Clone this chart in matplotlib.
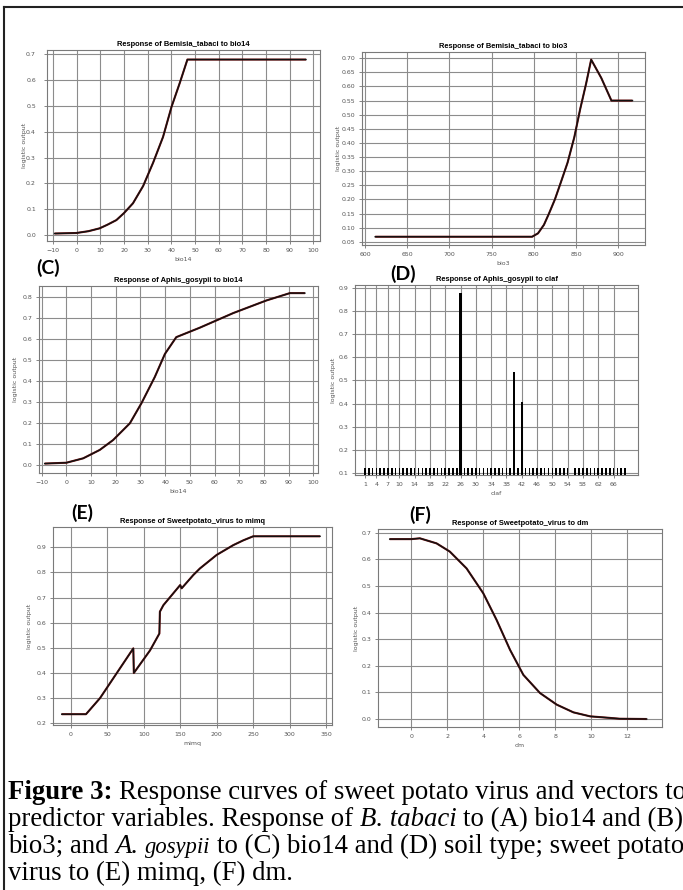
import matplotlib
matplotlib.use("Agg")
import matplotlib.pyplot as plt
from matplotlib.lines import Line2D
from matplotlib.ticker import FormatStrFormatter

W, H = 683, 890

# (A) Bemisia tabaci vs bio14
a_x = [-9.3, -0.1, 5, 9.7, 13, 16.8, 20, 23.8, 28.1, 32.3, 36.5, 40.1, 43.6, 46.8, 96.9]
a_y = [0.006, 0.008, 0.015, 0.026, 0.04, 0.058, 0.085, 0.123, 0.19, 0.28, 0.38, 0.497, 0.59, 0.68, 0.68]

# (B) Bemisia tabaci vs bio3
b_x = [612, 798, 805, 812, 818, 825, 832, 840, 848, 855, 862, 868, 880, 892, 917]
b_y = [0.068, 0.068, 0.08, 0.11, 0.15, 0.2, 0.26, 0.33, 0.42, 0.52, 0.61, 0.695, 0.63, 0.55, 0.55]

# (C) Aphis gosypii vs bio14
c_x = [-8.8, 0, 6.8, 13.5, 18.9, 25.7, 30.4, 35.8, 39.9, 44.5, 54, 67.6, 81, 90.5, 96.6]
c_y = [0.007, 0.011, 0.032, 0.072, 0.119, 0.199, 0.295, 0.42, 0.53, 0.61, 0.655, 0.725, 0.785, 0.82, 0.82]

# (D) Aphis gosypii vs claf (categorical)
d_cat = [1, 2, 3, 4, 5, 6, 7, 8, 9, 10, 11, 12, 13, 14, 15, 16, 17, 18, 19, 20,
         21, 22, 23, 24, 25, 26, 27, 28, 29, 30, 31, 32, 33, 34, 35, 36, 37, 38, 39, 40,
         41, 42, 43, 44, 45, 46, 47, 48, 49, 50, 51, 52, 53, 54, 56, 57, 58, 59, 60, 61,
         62, 63, 64, 65, 66, 67, 68, 69]
d_val = [0.12, 0.12, 0.12, 0.12, 0.12, 0.12, 0.12, 0.12, 0.12, 0.12, 0.12, 0.12, 0.12, 0.12, 0.12, 0.12, 0.12, 0.12, 0.12, 0.12,
         0.12, 0.12, 0.12, 0.12, 0.12, 0.88, 0.12, 0.12, 0.12, 0.12, 0.12, 0.12, 0.12, 0.12, 0.12, 0.12, 0.12, 0.12, 0.12, 0.535,
         0.12, 0.405, 0.12, 0.12, 0.12, 0.12, 0.12, 0.12, 0.12, 0.12, 0.12, 0.12, 0.12, 0.12, 0.12, 0.12, 0.12, 0.12, 0.12, 0.12,
         0.12, 0.12, 0.12, 0.12, 0.12, 0.12, 0.12, 0.12]
d_ticks = [1, 4, 7, 10, 14, 18, 22, 26, 30, 34, 38, 42, 46, 50, 54, 58, 62, 66]

# (E) Sweet potato virus vs mimq
e_x = [-12.3, 21, 40.2, 63, 85.8, 86.5, 108.7, 121.5, 122.2, 127, 150, 152, 168, 177, 200, 222.8, 236.5, 250, 341.6]
e_y = [0.236, 0.236, 0.3, 0.399, 0.498, 0.40, 0.49, 0.557, 0.644, 0.67, 0.75, 0.737, 0.79, 0.816, 0.87, 0.909, 0.928, 0.944, 0.944]

# (F) Sweet potato virus vs dm
f_x = [-1.21, 0, 0.47, 1.4, 2.14, 3.07, 4.0, 4.74, 5.49, 6.23, 7.16, 8.09, 9.02, 9.95, 10.9, 11.6, 13.1]
f_y = [0.676, 0.676, 0.679, 0.66, 0.629, 0.566, 0.4725, 0.3725, 0.26, 0.166, 0.0975, 0.054, 0.025, 0.01, 0.005, 0.001, 0.0]

fig = plt.figure(figsize=(W / 100, H / 100), dpi=100)
fig.patch.set_facecolor("white")


def px_axes(l, t, r, b):
    return fig.add_axes([l / W, 1 - b / H, (r - l) / W, (b - t) / H])


def style(ax, title, xlabel, xticks, yticks, yfmt, xlim, ylim, ylab_px, l, r, title_pad=3, ypad=3):
    ax.set_xlim(*xlim)
    ax.set_ylim(*ylim)
    ax.set_xticks(xticks)
    ax.set_yticks(yticks)
    ax.yaxis.set_major_formatter(FormatStrFormatter(yfmt))
    ax.grid(True, color="#8c8c8c", lw=0.8)
    ax.set_axisbelow(True)
    for s in ax.spines.values():
        s.set_color("#7a7a7a")
        s.set_linewidth(0.8)
    ax.tick_params(labelsize=4.5, colors="#555555", length=2, width=0.5, pad=3)
    ax.tick_params(axis="y", pad=ypad)
    ax.set_title(title, fontsize=5.4, fontweight="bold", family="Liberation Sans", pad=title_pad)
    ax.set_xlabel(xlabel, fontsize=4.5, color="#555555", labelpad=3)
    ax.set_ylabel("logistic output", fontsize=4.5, color="#555555")
    ax.yaxis.set_label_coords((ylab_px - l) / (r - l), 0.5)


def curve(ax, x, y):
    ax.plot(x, y, color="#7a1212", lw=1.5, solid_capstyle="butt")
    ax.plot(x, y, color="#111111", lw=1.0)


def panel_tag(x, y, s):
    fig.text(x / W, 1 - y / H, s, fontsize=14, fontweight="bold", family="Lato",
             ha="center", va="center")


# (A)
ax = px_axes(47, 50, 320, 241)
curve(ax, a_x, a_y)
style(ax, "Response of Bemisia_tabaci to bio14", "bio14", range(-10, 101, 10),
      [0, 0.1, 0.2, 0.3, 0.4, 0.5, 0.6, 0.7], "%.1f", (-12.5, 102.8), (-0.023, 0.717), 27, 47, 320,
      ypad=6)

# (B)
ax = px_axes(362, 52, 645, 245)
curve(ax, b_x, b_y)
style(ax, "Response of Bemisia_tabaci to bio3", "bio3", range(600, 901, 50),
      [0.05, 0.10, 0.15, 0.20, 0.25, 0.30, 0.35, 0.40, 0.45, 0.50, 0.55, 0.60, 0.65, 0.70], "%.2f",
      (596.4, 931.8), (0.0387, 0.722), 341, 362, 645)

# (C)
ax = px_axes(39, 286, 318, 473)
curve(ax, c_x, c_y)
style(ax, "Response of Aphis_gosypii to bio14", "bio14", range(-10, 101, 10),
      [0, 0.1, 0.2, 0.3, 0.4, 0.5, 0.6, 0.7, 0.8], "%.1f", (-11.1, 101.9), (-0.038, 0.854), 18, 39, 318)
panel_tag(48, 268, "(C)")

# (D)
ax = px_axes(355, 285, 638, 475)
ax.bar(d_cat, d_val, width=[0.55 if v > 0.3 else 0.42 for v in d_val], color="black")
style(ax, "Response of Aphis_gosypii to claf", "claf", d_ticks,
      [0.1, 0.2, 0.3, 0.4, 0.5, 0.6, 0.7, 0.8, 0.9], "%.1f", (-1.6, 72.4), (0.09, 0.914), 336, 355, 638)
panel_tag(403, 274, "(D)")

# (E)
ax = px_axes(53, 527, 332, 725)
curve(ax, e_x, e_y)
style(ax, "Response of Sweetpotato_virus to mimq", "mimq", range(0, 351, 50),
      [0.2, 0.3, 0.4, 0.5, 0.6, 0.7, 0.8, 0.9], "%.1f", (-24.2, 357.9), (0.193, 0.981), 32, 53, 332)
panel_tag(82, 513, "(E)")

# (F)
ax = px_axes(378, 529, 662, 727)
curve(ax, f_x, f_y)
style(ax, "Response of Sweetpotato_virus to dm", "dm", range(0, 13, 2),
      [0, 0.1, 0.2, 0.3, 0.4, 0.5, 0.6, 0.7], "%.1f", (-1.86, 13.95), (-0.03, 0.714), 359, 378, 662)
panel_tag(420, 515, "(F)")

# outer frame (top and left edges visible)
fig.add_artist(Line2D([4 / W, 1.0], [1 - 7 / H, 1 - 7 / H], color="#222222", lw=1.5, transform=fig.transFigure))
fig.add_artist(Line2D([4 / W, 4 / W], [1 - 7 / H, 0.0], color="#222222", lw=1.5, transform=fig.transFigure))

# caption, written piece by piece so styles can mix on one line
cap_size = 19.3
caption = [
    (799, [("Figure 3:", "bold", "normal", cap_size, False),
           ("Response curves of sweet potato virus and vectors to", "normal", "normal", cap_size, True)]),
    (826, [("predictor variables. Response of", "normal", "normal", cap_size, False),
           ("B. tabaci", "normal", "italic", cap_size, True),
           ("to (A) bio14 and (B)", "normal", "normal", cap_size, True)]),
    (853, [("bio3; and", "normal", "normal", cap_size, False),
           ("A.", "normal", "italic", cap_size, True),
           ("gosypii", "normal", "italic", cap_size - 3, True),
           ("to (C) bio14 and (D) soil type; sweet potato", "normal", "normal", cap_size, True)]),
    (880, [("virus to (E) mimq, (F) dm.", "normal", "normal", cap_size, False)]),
]

fig.canvas.draw()
renderer = fig.canvas.get_renderer()


def text_width(s, weight, style_, size):
    t = fig.text(0, 0, s, fontsize=size, family="Liberation Serif", fontweight=weight, fontstyle=style_)
    w = t.get_window_extent(renderer).width
    t.remove()
    return w


for base_y, pieces in caption:
    x = 8.0
    for s, weight, style_, size, space in pieces:
        if space:
            x += text_width("x x", weight, style_, cap_size) - text_width("xx", weight, style_, cap_size)
        t = fig.text(x / W, 1 - base_y / H, s, fontsize=size, family="Liberation Serif",
                     fontweight=weight, fontstyle=style_, va="baseline", ha="left")
        x += t.get_window_extent(renderer).width

fig.savefig("out.png", dpi=100)
